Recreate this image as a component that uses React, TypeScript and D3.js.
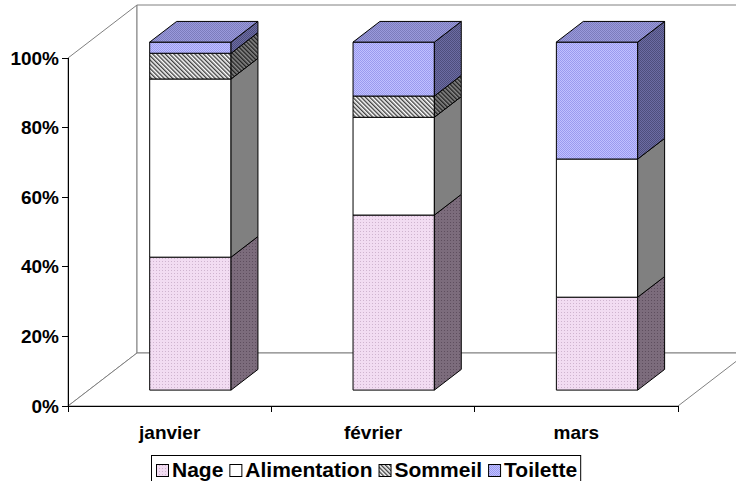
import { useRef, useEffect } from "react";
import * as d3 from "d3";

const months = ["janvier", "février", "mars"];
const series = ["Nage", "Alimentation", "Sommeil", "Toilette"];
// share of each activity per month (%)
const nage = [38.2, 50.3, 26.7];
const alimentation = [51.2, 28.1, 39.7];
const sommeil = [7.4, 6.1, 0];
const toilette = [3.2, 15.5, 33.6];
const yTicks = [0, 20, 40, 60, 80, 100];

const values = [nage, alimentation, sommeil, toilette];
const FONT = "'Liberation Sans', Arial, sans-serif";

const App = () => {
  const ref = useRef<SVGSVGElement>(null);

  useEffect(() => {
    if (!ref.current) return;
    const svg = d3.select(ref.current);
    svg.selectAll("*").remove();

    const left = 68, right = 678, bottom = 406, top = 58;
    const depth = { x: 69, y: -53 };
    const x = d3.scaleBand().domain(months).range([left, right]);
    const y = d3.scaleLinear().domain([0, 100]).range([bottom, top]);
    const barW = x.bandwidth() * 0.4;
    const dFront = 0.3, dBack = 0.69;
    const proj = (px: number, py: number, d: number): [number, number] => [
      px + depth.x * d,
      py + depth.y * d,
    ];

    // patterns
    const defs = svg.append("defs");
    const checker = (id: string, a: string, b: string) => {
      const p = defs.append("pattern").attr("id", id).attr("width", 2).attr("height", 2)
        .attr("patternUnits", "userSpaceOnUse");
      p.append("rect").attr("width", 2).attr("height", 2).attr("fill", a);
      p.append("rect").attr("width", 1).attr("height", 1).attr("fill", b);
      p.append("rect").attr("x", 1).attr("y", 1).attr("width", 1).attr("height", 1).attr("fill", b);
    };
    const dots = (id: string, a: string, b: string) => {
      const p = defs.append("pattern").attr("id", id).attr("width", 3).attr("height", 3)
        .attr("patternUnits", "userSpaceOnUse");
      p.append("rect").attr("width", 3).attr("height", 3).attr("fill", a);
      p.append("rect").attr("width", 1).attr("height", 1).attr("fill", b);
    };
    const hatch = (id: string, a: string, b: string) => {
      const p = defs.append("pattern").attr("id", id).attr("width", 3).attr("height", 3)
        .attr("patternUnits", "userSpaceOnUse").attr("patternTransform", "rotate(-45)");
      p.append("rect").attr("width", 3).attr("height", 3).attr("fill", a);
      p.append("rect").attr("width", 1.4).attr("height", 3).attr("fill", b);
    };
    dots("nageF", "#f2dcf2", "#cfb4cf");
    dots("nageS", "#7c6c7c", "#5e4e5e");
    hatch("somF", "#ffffff", "#404040");
    hatch("somS", "#8a8a8a", "#202020");
    checker("toiF", "#c0c0ff", "#9a9aee");
    checker("toiS", "#6c6ca4", "#4e4e7c");
    checker("toiT", "#9a9adc", "#7c7cbc");
    const front = ["url(#nageF)", "#ffffff", "url(#somF)", "url(#toiF)"];
    const side = ["url(#nageS)", "#808080", "url(#somS)", "url(#toiS)"];
    const topFill = ["url(#nageF)", "#ffffff", "url(#somF)", "url(#toiT)"];

    const poly = (pts: [number, number][]) => "M" + pts.map((p) => p.join(",")).join("L") + "Z";

    // walls and floor
    const wall = svg.append("g").attr("fill", "#fff").attr("stroke", "#808080").attr("stroke-width", 1);
    wall.append("path").attr("d", poly([[left, bottom], proj(left, bottom, 1), proj(left, top, 1), [left, top]]));
    wall.append("path").attr("d", poly([proj(left, bottom, 1), proj(right + 80, bottom, 1), proj(right + 80, top, 1), proj(left, top, 1)]));
    wall.append("path").attr("d", poly([[left, bottom], [right, bottom], proj(right, bottom, 1), proj(left, bottom, 1)]));

    // bars
    const bars = svg.append("g").attr("stroke", "#000").attr("stroke-width", 1).attr("stroke-linejoin", "round");
    months.forEach((m, i) => {
      const x0 = x(m)! + (x.bandwidth() - barW) / 2;
      const x1 = x0 + barW;
      let cum = 0;
      const last = values.reduce((acc, s, k) => (s[i] > 0 ? k : acc), 0);
      values.forEach((s, k) => {
        const v = s[i];
        if (v <= 0) return;
        const yb = y(cum), yt = y(cum + v);
        cum += v;
        bars.append("path").attr("fill", front[k])
          .attr("d", poly([proj(x0, yb, dFront), proj(x1, yb, dFront), proj(x1, yt, dFront), proj(x0, yt, dFront)]));
        bars.append("path").attr("fill", side[k])
          .attr("d", poly([proj(x1, yb, dFront), proj(x1, yb, dBack), proj(x1, yt, dBack), proj(x1, yt, dFront)]));
        if (k === last) {
          bars.append("path").attr("fill", topFill[k])
            .attr("d", poly([proj(x0, yt, dFront), proj(x1, yt, dFront), proj(x1, yt, dBack), proj(x0, yt, dBack)]));
        }
      });
    });

    // axes
    const axis = svg.append("g").attr("stroke", "#000").attr("stroke-width", 1).attr("shape-rendering", "crispEdges");
    axis.append("line").attr("x1", left).attr("x2", left).attr("y1", top).attr("y2", bottom);
    axis.append("line").attr("x1", left).attr("x2", right).attr("y1", bottom).attr("y2", bottom);
    yTicks.forEach((t) => {
      axis.append("line").attr("x1", left - 6).attr("x2", left).attr("y1", y(t)).attr("y2", y(t));
    });
    [left, ...months.map((m) => x(m)! + x.bandwidth())].forEach((tx) => {
      axis.append("line").attr("x1", tx).attr("x2", tx).attr("y1", bottom).attr("y2", bottom + 6);
    });

    svg.append("g").attr("font-family", FONT).attr("font-weight", "bold").attr("font-size", 19)
      .selectAll("text").data(yTicks).join("text")
      .attr("x", left - 9).attr("y", (d) => y(d)).attr("dy", "0.35em").attr("text-anchor", "end")
      .text((d) => d + "%");

    svg.append("g").attr("font-family", FONT).attr("font-weight", "bold").attr("font-size", 19)
      .selectAll("text").data(months).join("text")
      .attr("x", (d) => x(d)! + x.bandwidth() / 2).attr("y", 439).attr("text-anchor", "middle")
      .text((d) => d);

    // legend
    const lg = svg.append("g");
    const box = lg.append("rect").attr("fill", "#fff").attr("stroke", "#000").attr("stroke-width", 1);
    let cx = 156;
    const legendFill = ["url(#nageF)", "#ffffff", "url(#somF)", "url(#toiF)"];
    series.forEach((s, k) => {
      lg.append("rect").attr("x", cx + 0.5).attr("y", 464.5).attr("width", 12).attr("height", 12)
        .attr("fill", legendFill[k]).attr("stroke", "#000").attr("stroke-width", 1);
      const t = lg.append("text").attr("x", cx + 16).attr("y", 477)
        .attr("font-family", FONT).attr("font-weight", "bold").attr("font-size", 21).text(s);
      const w = (t.node() as SVGTextElement).getComputedTextLength();
      cx += 16 + w + (k < series.length - 1 ? 6 : 4);
    });
    box.attr("x", 151.5).attr("y", 455.5).attr("width", cx - 151 - 1).attr("height", 30);
  }, []);

  return (
    <svg ref={ref} width={736} height={481}
      style={{ position: "absolute", left: 0, top: 0, background: "#fff" }} />
  );
};

export default App;
